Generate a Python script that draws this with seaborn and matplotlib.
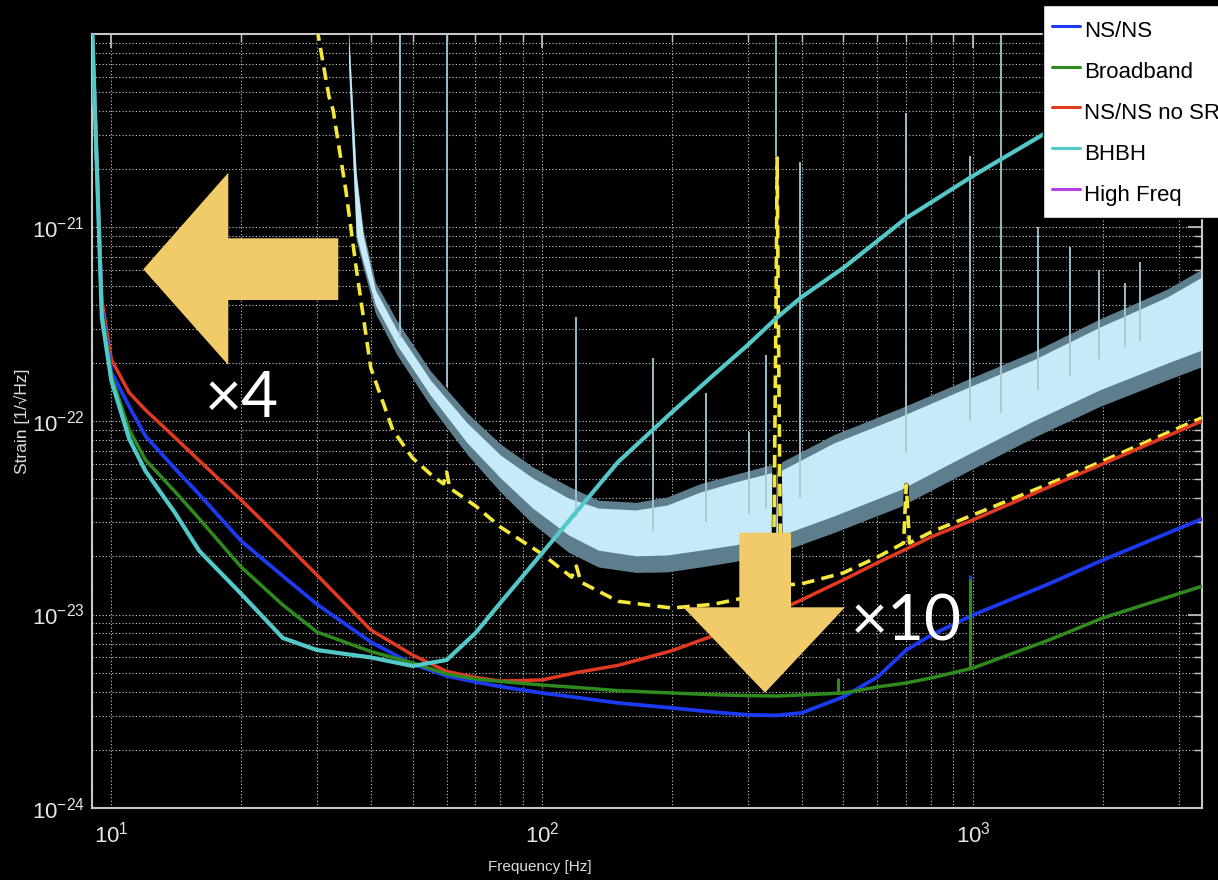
import numpy as np
import matplotlib
matplotlib.use("Agg")
import matplotlib.pyplot as plt
import matplotlib.ticker as mticker
from matplotlib.patches import Polygon
from matplotlib.lines import Line2D
import seaborn as sns

# ---------------- data ----------------
freq_grid = [9.0, 9.5, 10, 11, 12, 14, 16, 20, 25, 30, 40, 50, 60, 70, 80, 100, 120, 150,
             200, 250, 300, 350, 400, 500, 600, 700, 800, 1000, 1500, 2000, 3400]

nsns = [1.2e-20, 3.84e-22, 1.79e-22, 1.187e-22, 8.36e-23, 5.72e-23, 4.17e-23, 2.40e-23,
        1.58e-23, 1.13e-23, 7.21e-24, 5.55e-24, 4.81e-24, 4.48e-24, 4.24e-24, 3.93e-24,
        3.73e-24, 3.49e-24, 3.29e-24, 3.13e-24, 3.03e-24, 3.01e-24, 3.10e-24, 3.75e-24,
        4.75e-24, 6.55e-24, 7.83e-24, 9.94e-24, 1.44e-23, 1.91e-23, 3.12e-23]

broadband = [1.2e-20, 3.66e-22, 1.71e-22, 8.98e-23, 6.29e-23, 4.35e-23, 3.12e-23, 1.76e-23,
             1.12e-23, 8.12e-24, 6.44e-24, 5.62e-24, 4.93e-24, 4.64e-24, 4.51e-24, 4.32e-24,
             4.20e-24, 4.04e-24, 3.93e-24, 3.85e-24, 3.81e-24, 3.79e-24, 3.84e-24, 3.93e-24,
             4.22e-24, 4.43e-24, 4.70e-24, 5.29e-24, 7.38e-24, 9.59e-24, 1.40e-23]

nsns_no_sr = [1.2e-20, 4.22e-22, 2.07e-22, 1.40e-22, 1.14e-22, 8.27e-23, 6.23e-23, 3.91e-23,
              2.40e-23, 1.60e-23, 8.32e-24, 6.18e-24, 5.08e-24, 4.73e-24, 4.53e-24, 4.59e-24,
              5.01e-24, 5.46e-24, 6.50e-24, 7.78e-24, 9.15e-24, 1.04e-23, 1.19e-23, 1.51e-23,
              1.85e-23, 2.18e-23, 2.52e-23, 3.08e-23, 4.56e-23, 6.0e-23, 1.0e-22]

bhbh = [1.3e-20, 3.41e-22, 1.61e-22, 8.07e-23, 5.51e-23, 3.39e-23, 2.13e-23, 1.28e-23,
        7.56e-24, 6.55e-24, 6.0e-24, 5.42e-24, 5.82e-24, 8.02e-24, 1.15e-23, 2.08e-23,
        3.39e-23, 6.14e-23, 1.11e-22, 1.73e-22, 2.47e-22, 3.41e-22, 4.37e-22, 6.18e-22,
        8.52e-22, 1.12e-21, 1.35e-21, 1.85e-21, 3.15e-21, 4.56e-21, 8.47e-21]

# narrow lines on the advanced curves
nsns_line_f = [982]
nsns_line_lo = [9.7e-24]
nsns_line_hi = [1.60e-23]
broadband_line_f = [485, 982]
broadband_line_lo = [3.9e-24, 5.2e-24]
broadband_line_hi = [4.70e-24, 1.53e-23]

# design curve of the current detector (yellow dashed)
ref_f = [30, 32, 32.7, 35, 37, 40, 45, 50, 55, 59, 60, 61, 70, 80, 100, 117, 120, 123, 150,
         200, 250, 300, 340, 345, 349, 351, 353, 357, 365, 400, 500, 600, 690, 697, 700, 705,
         712, 800, 1000, 1500, 2000, 3400]
ref_h = [1.07e-20, 4.73e-21, 4.05e-21, 1.56e-21, 6.18e-22, 1.88e-22, 8.98e-23, 6.44e-23,
         5.32e-23, 4.73e-23, 5.45e-23, 4.50e-23, 3.64e-23, 2.83e-23, 2.05e-23, 1.56e-23,
         1.78e-23, 1.47e-23, 1.17e-23, 1.08e-23, 1.13e-23, 1.23e-23, 1.34e-23, 2.43e-23,
         4.22e-22, 2.29e-21, 4.22e-22, 2.43e-23, 1.42e-23, 1.44e-23, 1.64e-23, 1.98e-23,
         2.34e-23, 3.91e-23, 4.67e-23, 3.47e-23, 2.34e-23, 2.67e-23, 3.27e-23, 4.73e-23,
         6.21e-23, 1.04e-22]

# measured noise spectrum (band)
noise_f = [35.5, 37, 38.4, 41, 46, 55, 67, 80, 95, 115, 135, 165, 195, 233, 280, 360, 475,
           675, 965, 1380, 1970, 2820, 3400]
noise_lo = [7.34e-21, 9.15e-22, 6.63e-22, 3.98e-22, 2.47e-22, 1.36e-22, 7.70e-23, 5.08e-23,
            3.55e-23, 2.58e-23, 2.15e-23, 2.01e-23, 2.03e-23, 2.15e-23, 2.29e-23, 2.58e-23,
            3.23e-23, 4.40e-23, 6.67e-23, 1.0e-22, 1.45e-22, 1.99e-22, 2.33e-22]
noise_hi = [1.05e-20, 1.87e-21, 9.15e-22, 4.75e-22, 2.95e-22, 1.63e-22, 9.76e-23, 6.67e-23,
            5.08e-23, 4.0e-23, 3.55e-23, 3.47e-23, 3.68e-23, 4.30e-23, 4.84e-23, 5.58e-23,
            7.70e-23, 1.05e-22, 1.48e-22, 2.07e-22, 3.06e-22, 4.37e-22, 5.55e-22]
noise_outer_lo = [6.8e-21, 8.6e-22, 6.2e-22, 3.6e-22, 2.2e-22, 1.2e-22, 6.7e-23, 4.3e-23,
                  2.95e-23, 2.1e-23, 1.76e-23, 1.65e-23, 1.66e-23, 1.76e-23, 1.88e-23,
                  2.12e-23, 2.65e-23, 3.6e-23, 5.45e-23, 8.2e-23, 1.19e-22, 1.63e-22, 1.91e-22]
noise_outer_hi = [1.1e-20, 1.95e-21, 9.7e-22, 5.2e-22, 3.3e-22, 1.82e-22, 1.1e-22, 7.6e-23,
                  5.8e-23, 4.6e-23, 3.9e-23, 3.8e-23, 4.05e-23, 4.75e-23, 5.3e-23, 6.15e-23,
                  8.5e-23, 1.16e-22, 1.63e-22, 2.28e-22, 3.37e-22, 4.8e-22, 6.1e-22]

# narrow lines in the measured spectrum
line_f = [46.7, 60.2, 120, 181, 240, 302, 330, 348, 397, 700, 985, 1162, 1412, 1680, 1960,
          2250, 2440]
line_lo = [2.7e-22, 1.5e-22, 3.2e-23, 2.7e-23, 3.0e-23, 3.3e-23, 3.5e-23, 3.6e-23, 4.0e-23,
           6.8e-23, 1.0e-22, 1.1e-22, 1.45e-22, 1.7e-22, 2.1e-22, 2.4e-22, 2.6e-22]
line_hi = [1.2e-20, 1.2e-20, 3.46e-22, 2.12e-22, 1.40e-22, 8.77e-23, 2.19e-22, 1.2e-20,
           2.19e-21, 3.91e-21, 2.34e-21, 1.2e-20, 1.0e-21, 7.96e-22, 6.03e-22, 5.17e-22,
           6.63e-22]

legend_labels = ["NS/NS", "Broadband", "NS/NS no SR", "BHBH", "High Freq"]
x_ticks = [10, 100, 1000]
y_ticks = [1e-24, 1e-23, 1e-22, 1e-21]

# ---------------- styling ----------------
sns.set_theme(style="dark", rc={"axes.facecolor": "black", "figure.facecolor": "black"})
plt.rcParams["font.family"] = ["Liberation Sans", "DejaVu Sans"]
plt.rcParams["mathtext.default"] = "regular"

C_BLUE = "#1C3AF2"
C_GREEN = "#2F8A1E"
C_RED = "#E23A22"
C_CYAN = "#52C8C8"
C_MAG = "#B63FE0"
C_YEL = "#F4E83A"
C_GOLD = "#F1CB6A"
C_AXIS = "#C8C8C8"

W, H = 1218, 880
fig = plt.figure(figsize=(W / 100, H / 100), dpi=100)
fig.patch.set_facecolor("black")
ax = fig.add_axes([91.7 / W, 1 - 808 / H, (1202 - 91.7) / W, (808 - 34) / H])
ax.set_facecolor("black")
ax.set_xscale("log")
ax.set_yscale("log")
ax.set_xlim(9, 3400)
ax.set_ylim(1e-24, 1e-20)

# measured noise band
ax.fill_between(noise_f, noise_outer_lo, noise_outer_hi, color="#5E7E8E", lw=0, zorder=2)
ax.fill_between(noise_f, noise_lo, noise_hi, color="#C6EAF8", lw=0, zorder=3)
ax.vlines(line_f, line_lo, line_hi, color="#A9C6D4", lw=1.3, zorder=3.5)

# yellow dashed design curve (black underlay shows in the gaps)
sns.lineplot(x=ref_f, y=ref_h, ax=ax, color="black", lw=3.2, estimator=None, sort=False,
             zorder=4)
sns.lineplot(x=ref_f, y=ref_h, ax=ax, color=C_YEL, lw=2.6, estimator=None, sort=False,
             linestyle=(0, (3.5, 2.0)), zorder=4.1)

# advanced detector curves
sns.lineplot(x=freq_grid, y=nsns_no_sr, ax=ax, color=C_RED, lw=2.5, estimator=None,
             sort=False, zorder=5)
ax.vlines(nsns_line_f, nsns_line_lo, nsns_line_hi, color=C_BLUE, lw=2.2, zorder=5.5)
sns.lineplot(x=freq_grid, y=nsns, ax=ax, color=C_BLUE, lw=2.7, estimator=None, sort=False,
             zorder=6)
ax.vlines(broadband_line_f, broadband_line_lo, broadband_line_hi, color=C_GREEN, lw=2.2,
          zorder=6.5)
sns.lineplot(x=freq_grid, y=broadband, ax=ax, color=C_GREEN, lw=2.5, estimator=None,
             sort=False, zorder=6.6)
sns.lineplot(x=freq_grid, y=bhbh, ax=ax, color=C_CYAN, lw=3.0, estimator=None, sort=False,
             zorder=7)

# axes cosmetics
fmt = mticker.FuncFormatter(lambda v, p: r"$\mathregular{10^{%d}}$" % int(round(np.log10(v))))
ax.xaxis.set_major_locator(mticker.FixedLocator(x_ticks))
ax.yaxis.set_major_locator(mticker.FixedLocator(y_ticks))
ax.xaxis.set_major_formatter(fmt)
ax.yaxis.set_major_formatter(fmt)
ax.xaxis.set_minor_locator(mticker.LogLocator(base=10, subs=np.arange(2, 10), numticks=50))
ax.yaxis.set_minor_locator(mticker.LogLocator(base=10, subs=np.arange(2, 10), numticks=50))
ax.xaxis.set_minor_formatter(mticker.NullFormatter())
ax.yaxis.set_minor_formatter(mticker.NullFormatter())
ax.grid(True, which="both", color="#CFCFCF", linestyle=(0, (1, 2)), lw=0.8, zorder=1)
ax.set_axisbelow(True)
ax.tick_params(which="both", direction="in", top=True, right=True, colors=C_AXIS,
               labelcolor="#E6E6E6")
ax.tick_params(which="major", length=10, width=1.2, labelsize=16)
ax.tick_params(which="minor", length=6, width=1.0)
ax.tick_params(axis="x", which="major", pad=10)
ax.tick_params(axis="y", which="major", pad=5)
for s in ax.spines.values():
    s.set_color(C_AXIS)
    s.set_linewidth(1.5)
    s.set_visible(True)

ax.set_xlabel("Frequency [Hz]", color="#DDDDDD", fontsize=11)
ax.set_ylabel("Strain [1/\u221aHz]", color="#DDDDDD", fontsize=12.5)
ax.xaxis.set_label_coords((540 - 91.7) / (1202 - 91.7), -(860 - 808) / (808 - 34))
ax.yaxis.set_label_coords(-(91.7 - 30) / (1202 - 91.7), 0.5)

# legend (clipped by the right edge of the figure, as in the reference)
handles = [Line2D([], [], color=c, lw=2.2) for c in (C_BLUE, C_GREEN, C_RED, C_CYAN, C_MAG)]
leg = fig.legend(handles, legend_labels, loc="upper left",
                 bbox_to_anchor=(1043 / W, 1 - 5 / H), bbox_transform=fig.transFigure,
                 borderaxespad=0, fontsize=16, frameon=True, fancybox=False, framealpha=1,
                 facecolor="white", edgecolor="black", handlelength=1.26,
                 handletextpad=0.15, handleheight=1.75, labelspacing=0.46, borderpad=0.42)
leg.get_frame().set_linewidth(1.0)
for t in leg.get_texts():
    t.set_color("black")
leg.set_zorder(20)

# overlay arrows (annotations, in figure pixels)
def px(pts):
    return [(x / W, 1 - y / H) for x, y in pts]

left_arrow = [(143.3, 269.3), (228.3, 172.7), (228.3, 238.3), (338.3, 238.3),
              (338.3, 300.0), (228.3, 300.0), (228.3, 365.0)]
down_arrow = [(739.3, 532.7), (791.0, 532.7), (791.0, 607.3), (845.0, 607.3),
              (765.0, 692.7), (683.3, 607.3), (739.3, 607.3)]
for shape in (left_arrow, down_arrow):
    fig.patches.append(Polygon(px(shape), closed=True, transform=fig.transFigure,
                               facecolor=C_GOLD, edgecolor="none", zorder=15))

fig.text(205 / W, 1 - 417 / H, "\u00d74", color="white", fontsize=46,
         family=["Lato", "DejaVu Sans"], va="baseline", ha="left", zorder=16)
fig.text(851 / W, 1 - 640 / H, "\u00d710", color="white", fontsize=46,
         family=["Lato", "DejaVu Sans"], va="baseline", ha="left", zorder=16)

fig.savefig("out.png", dpi=100, facecolor="black")
